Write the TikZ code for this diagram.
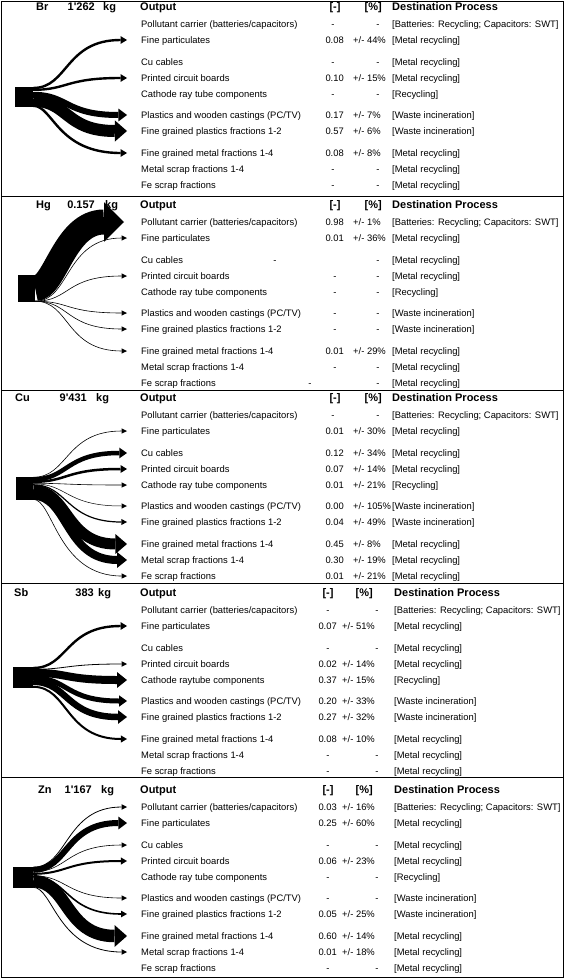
\documentclass[tikz,border=0pt]{standalone}
\usepackage{fontspec}
\setmainfont{Liberation Sans}
\usetikzlibrary{arrows.meta}

\begin{document}
\begin{tikzpicture}[x=1pt,y=-1pt,
	panel/.style={draw=black,line width=0.8pt},
	src/.style={fill=black,inner sep=0pt},
	headtxt/.style={font=\bfseries\fontsize{11}{12}\selectfont,inner sep=0pt,text height=7.9pt,text depth=0pt},
	rowtxt/.style={font=\fontsize{9.4}{10}\selectfont,inner sep=0pt,text height=6.8pt,text depth=0pt},
	outlen/.store in=\flowout, inlen/.store in=\flowin, outlen=35, inlen=62,
	flow/.style={line width=#1pt,
		/utils/exec={\pgfmathsetmacro\hdlen{0.6*#1+5}\pgfmathsetmacro\hdwid{1.4*#1+4.5}%
			\edef\hdset{\noexpand\tikzset{-{Triangle[length=\hdlen pt,width=\hdwid pt,line width=0pt]}}}\hdset},
		to path={.. controls +(\flowout,0) and +(-\flowin,0) .. (\tikztotarget)}}]
	\useasboundingbox (0,0) rectangle (565,979);
	% panels
	\draw [panel] (1,1) rectangle (563,196);
	\draw [panel] (1,196) rectangle (563,390);
	\draw [panel] (1,390) rectangle (563,583);
	\draw [panel] (1,583) rectangle (563,777);
	\draw [panel] (1,777) rectangle (563,977);
	% element and mass
	\foreach \p/\y/\el/\ex/\amt/\ax/\kx in {br/7/Br/36/1\textquotesingle 262/95/103, hg/205/Hg/36/0.157/95/105, cu/398/Cu/15/9\textquotesingle 431/87/96, sb/593/Sb/14/383/94/98, zn/790/Zn/38/1\textquotesingle 167/92/101} {
		\node [headtxt,anchor=west] (\p-el) at (\ex,\y) {\el};
		\node [headtxt,anchor=east] (\p-amt) at (\ax,\y) {\amt};
		\node [headtxt,anchor=west] (\p-kg) at (\kx,\y) {kg};
	}
	% column heads
	\foreach \p/\y/\mx/\px/\dx in {br/7/335/382/392, hg/205/335/382/392, cu/398/335/382/392, sb/593/328/373/394, zn/790/328/373/394} {
		\node [headtxt,anchor=west] (\p-out) at (140,\y) {Output};
		\node [headtxt] (\p-frac) at (\mx,\y) {[-]};
		\node [headtxt,anchor=east] (\p-pct) at (\px,\y) {[\%]};
		\node [headtxt,anchor=west] (\p-dest) at (\dx,\y) {Destination Process};
	}
	% outputs and destinations
	\foreach \p/\y/\dx/\crt in {br/7/392/{Cathode ray tube components}, hg/205/392/{Cathode ray tube components}, cu/398/392/{Cathode ray tube components}, sb/593/394/{Cathode raytube components}, zn/790/394/{Cathode ray tube components}} {
		\foreach \r/\o/\t/\d in {pc/17/{Pollutant carrier (batteries/capacitors)}/{[Batteries: Recycling; Capacitors: SWT]},
				fp/33/{Fine particulates}/{[Metal recycling]},
				cu/55/{Cu cables}/{[Metal recycling]},
				pcb/71/{Printed circuit boards}/{[Metal recycling]},
				crt/87/{\crt}/{[Recycling]},
				pw/108/{Plastics and wooden castings (PC/TV)}/{[Waste incineration]},
				fgp/124/{Fine grained plastics fractions 1-2}/{[Waste incineration]},
				fgm/146/{Fine grained metal fractions 1-4}/{[Metal recycling]},
				ms/162/{Metal scrap fractions 1-4}/{[Metal recycling]},
				fe/178/{Fe scrap fractions}/{[Metal recycling]}} {
			\node [rowtxt,anchor=west] (\p-\r) at (141,\y+\o) {\t};
			\node [rowtxt,anchor=west] (\p-\r-d) at (\dx,\y+\o) {\d};
		}
	}
	% transfer coefficients
	\foreach \r/\v/\e in {fp/0.08/44, pcb/0.10/15, pw/0.17/7, fgp/0.57/6, fgm/0.08/8} {
		\node [rowtxt,anchor=east] (br-\r-v) at (344,0 |- br-\r.west) {\v};
		\node [rowtxt,anchor=west] (br-\r-e) at (353,0 |- br-\r.west) {+/- \e\%};
	}
	\foreach \r in {pc,cu,crt,ms,fe} {
		\node [rowtxt] (br-\r-v) at (333,0 |- br-\r.west) {-};
		\node [rowtxt] (br-\r-e) at (378,0 |- br-\r.west) {-};
	}
	\foreach \r/\v/\e in {pc/0.98/1, fp/0.01/36, fgm/0.01/29} {
		\node [rowtxt,anchor=east] (hg-\r-v) at (344,0 |- hg-\r.west) {\v};
		\node [rowtxt,anchor=west] (hg-\r-e) at (353,0 |- hg-\r.west) {+/- \e\%};
	}
	\foreach \r/\x in {cu/275, pcb/335, crt/335, pw/335, fgp/335, ms/335, fe/310} {
		\node [rowtxt] (hg-\r-v) at (\x,0 |- hg-\r.west) {-};
		\node [rowtxt] (hg-\r-e) at (378,0 |- hg-\r.west) {-};
	}
	\foreach \r/\v/\e in {fp/0.01/30, cu/0.12/34, pcb/0.07/14, crt/0.01/21, pw/0.00/105, fgp/0.04/49, fgm/0.45/8, ms/0.30/19, fe/0.01/21} {
		\node [rowtxt,anchor=east] (cu-\r-v) at (344,0 |- cu-\r.west) {\v};
		\node [rowtxt,anchor=west] (cu-\r-e) at (353,0 |- cu-\r.west) {+/- \e\%};
	}
	\node [rowtxt] (cu-pc-v) at (333,0 |- cu-pc.west) {-};
	\node [rowtxt] (cu-pc-e) at (378,0 |- cu-pc.west) {-};
	\foreach \r/\v/\e in {fp/0.07/51, pcb/0.02/14, crt/0.37/15, pw/0.20/33, fgp/0.27/32, fgm/0.08/10} {
		\node [rowtxt,anchor=east] (sb-\r-v) at (337,0 |- sb-\r.west) {\v};
		\node [rowtxt,anchor=west] (sb-\r-e) at (342,0 |- sb-\r.west) {+/- \e\%};
	}
	\foreach \r in {pc,cu,ms,fe} {
		\node [rowtxt] (sb-\r-v) at (328,0 |- sb-\r.west) {-};
		\node [rowtxt] (sb-\r-e) at (377,0 |- sb-\r.west) {-};
	}
	\foreach \r/\v/\e in {pc/0.03/16, fp/0.25/60, pcb/0.06/23, fgp/0.05/25, fgm/0.60/14, ms/0.01/18} {
		\node [rowtxt,anchor=east] (zn-\r-v) at (337,0 |- zn-\r.west) {\v};
		\node [rowtxt,anchor=west] (zn-\r-e) at (342,0 |- zn-\r.west) {+/- \e\%};
	}
	\foreach \r in {cu,crt,pw,fe} {
		\node [rowtxt] (zn-\r-v) at (328,0 |- zn-\r.west) {-};
		\node [rowtxt] (zn-\r-e) at (377,0 |- zn-\r.west) {-};
	}
	% sources
	\node [src,minimum width=18pt,minimum height=20pt] (br-src) at (24,97) {};
	\node [src,minimum width=17pt,minimum height=27pt] (hg-src) at (26.5,288.5) {};
	\node [src,minimum width=17pt,minimum height=23pt] (cu-src) at (24.5,488.5) {};
	\node [src,minimum width=20pt,minimum height=21pt] (sb-src) at (23,677.5) {};
	\node [src,minimum width=20pt,minimum height=21pt] (zn-src) at (23,877.5) {};
	% flows
	\foreach \r/\w/\o in {fp/2.4/1.2, pcb/2.4/3, pw/6/8, fgp/12/14}
		\draw [flow=\w] ([yshift=-\o pt]br-src.north east) to ([xshift=-14pt]br-\r.west);
	\draw [flow=2.4,outlen=20,inlen=70] ([yshift=-19pt]br-src.north east) to ([xshift=-14pt]br-fgm.west);
	\draw [flow=25,outlen=20,inlen=60] (hg-src.east) to ([xshift=-17pt]hg-pc.west);
	\foreach \r in {fp,pcb,pw,fgp,fgm}
		\draw [flow=0.6] ([yshift=1pt]hg-src.south east) to ([xshift=-14pt]hg-\r.west);
	\foreach \r/\w/\o in {fp/0.6/0.5, cu/4.5/2.5, pcb/2.5/5, crt/0.6/6.5, pw/0.5/7, fgp/1.2/8, fgm/11/13.5, ms/8/19}
		\draw [flow=\w] ([yshift=-\o pt]cu-src.north east) to ([xshift=-14pt]cu-\r.west);
	\draw [flow=0.6,outlen=20,inlen=70] ([yshift=-22.5pt]cu-src.north east) to ([xshift=-14pt]cu-fe.west);
	\foreach \r/\w/\o in {fp/2.4/1.2, pcb/0.8/2.5, crt/8/6, pw/5/11, fgp/6.5/15, fgm/2/20}
		\draw [flow=\w] ([yshift=-\o pt]sb-src.north east) to ([xshift=-14pt]sb-\r.west);
	\foreach \r/\w/\o in {pc/0.8/0.4, fp/6/3, cu/0.6/5, pcb/2/7, pw/0.6/9, fgp/1.6/10, fgm/12.5/14.5}
		\draw [flow=\w] ([yshift=-\o pt]zn-src.north east) to ([xshift=-14pt]zn-\r.west);
	\draw [flow=0.8,outlen=20,inlen=70] ([yshift=-20.5pt]zn-src.north east) to ([xshift=-14pt]zn-ms.west);
\end{tikzpicture}
\end{document}
